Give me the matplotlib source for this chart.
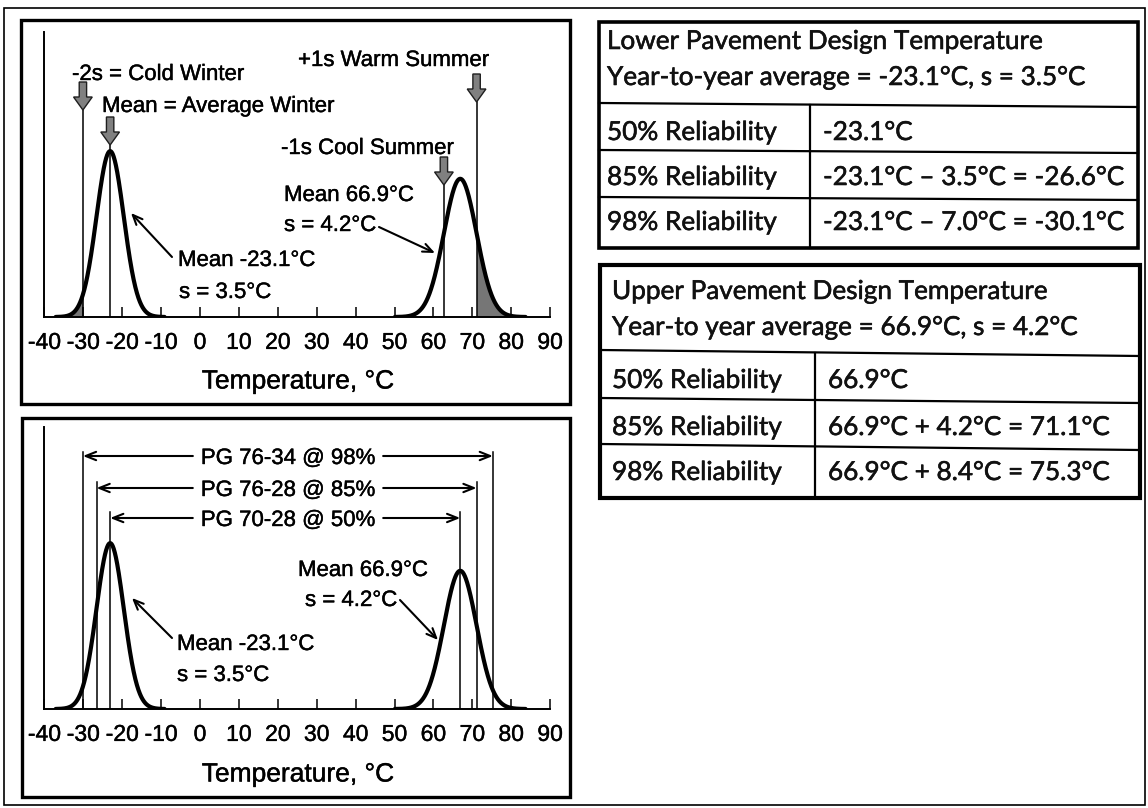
import numpy as np
import matplotlib
matplotlib.use("Agg")
import matplotlib.pyplot as plt
import matplotlib.patheffects as pe
from matplotlib.patches import Rectangle, FancyArrow

# ---- data -------------------------------------------------------------
winter_mean, winter_sd = -23.1, 3.5
summer_mean, summer_sd = 66.9, 4.2
temp_ticks = [-40, -30, -20, -10, 0, 10, 20, 30, 40, 50, 60, 70, 80, 90]

cold_winter = -30.1      # mean - 2s
cool_summer = 62.7       # mean - 1s
warm_summer = 71.1       # mean + 1s

low_design = [-23.1, -26.6, -30.1]     # 50 %, 85 %, 98 %
high_design = [66.9, 71.1, 75.3]
grade_labels = ["PG 70-28 @ 50%", "PG 76-28 @ 85%", "PG 76-34 @ 98%"]

reliability_rows = ["50% Reliability", "85% Reliability", "98% Reliability"]
lower_title = ["Lower Pavement Design Temperature",
               "Year-to-year average = -23.1°C, s = 3.5°C"]
lower_values = ["-23.1°C", "-23.1°C – 3.5°C = -26.6°C", "-23.1°C – 7.0°C = -30.1°C"]
upper_title = ["Upper Pavement Design Temperature",
               "Year-to year average = 66.9°C, s = 4.2°C"]
upper_values = ["66.9°C", "66.9°C + 4.2°C = 71.1°C", "66.9°C + 8.4°C = 75.3°C"]

# ---- figure & pixel canvas -------------------------------------------
W, H = 1148, 808
DPI = 100
CHART_FONT = "Liberation Sans"
TABLE_FONT = "Lato"
INK = [pe.withStroke(linewidth=0.3, foreground="black")]
TABLE_INK = [pe.withStroke(linewidth=0.4, foreground="#111111")]

fig = plt.figure(figsize=(W / DPI, H / DPI), dpi=DPI, facecolor="white")
canvas = fig.add_axes([0, 0, 1, 1])
canvas.set_xlim(0, W)
canvas.set_ylim(H, 0)
canvas.axis("off")

SCALE = 1455.0          # pixels per unit of probability density
X0, X1 = 44.4, 550.1     # pixel span of -40 .. 90 degC


def pdf(x, m, s):
    return np.exp(-0.5 * ((x - m) / s) ** 2) / (s * np.sqrt(2 * np.pi))


def ptext(x, cy, s, size, family=CHART_FONT, **kw):
    """Text whose capitals are centred on pixel row cy."""
    base = cy + 0.36 * size * DPI / 72
    return canvas.text(x, base, s, fontsize=size, family=family,
                       va="baseline", path_effects=INK, **kw)


def make_chart(base_px, top_px):
    ax = fig.add_axes([X0 / W, 1 - base_px / H, (X1 - X0) / W,
                       (base_px - top_px) / H])
    ax.set_xlim(-40, 90)
    ax.set_ylim(0, (base_px - top_px) / SCALE)
    ax.patch.set_alpha(0)
    for s in ("top", "right"):
        ax.spines[s].set_visible(False)
    for s in ("left", "bottom"):
        ax.spines[s].set_linewidth(1.4)
    ax.set_yticks([])
    ax.set_xticks(temp_ticks)
    ax.set_xticklabels([str(t) for t in temp_ticks], family=CHART_FONT,
                       path_effects=INK)
    ax.tick_params(axis="x", direction="in", length=7.5, width=1.1,
                   pad=10, labelsize=16.5)
    return ax


def bell(ax, m, s, shade_below=None, shade_above=None):
    x = np.linspace(m - 4 * s, m + 4 * s, 500)
    y = pdf(x, m, s)
    if shade_below is not None:
        msk = x <= shade_below
        ax.fill_between(x[msk], 0, y[msk], color="#767676", lw=0)
    if shade_above is not None:
        msk = x >= shade_above
        ax.fill_between(x[msk], 0, y[msk], color="#767676", lw=0)
    ax.plot(x, y, color="black", lw=3.0, solid_capstyle="round")


def block_arrow(ax, t, tip_px, base_px):
    tip = (base_px - tip_px) / SCALE
    L = 28 / SCALE
    ax.add_patch(FancyArrow(t, tip + L, 0, -L, width=1.9, head_width=4.8,
                            head_length=13 / SCALE, length_includes_head=True,
                            fc="#808080", ec="#1e1e1e", lw=1.0, zorder=5))
    ax.plot([t, t], [0, tip], color="black", lw=1.1)


def pointer(x0, y0, x1, y1):
    canvas.annotate("", xy=(x1, y1), xytext=(x0, y0),
                    arrowprops=dict(arrowstyle="->,head_length=0.7,head_width=0.3",
                                    lw=1.5, color="black",
                                    shrinkA=0, shrinkB=0))


# ---- outer frame and panel frames ------------------------------------
canvas.add_patch(Rectangle((4, 8), 1141, 797, fill=False, lw=1.2, ec="black"))
canvas.add_patch(Rectangle((21, 20), 549, 384, fill=False, lw=2.4, ec="black"))
canvas.add_patch(Rectangle((22, 418), 548, 379, fill=False, lw=2.4, ec="black"))

# ---- top chart: design season markers --------------------------------
TOP_BASE, TOP_TOP = 317, 32
ax1 = make_chart(TOP_BASE, TOP_TOP)
bell(ax1, winter_mean, winter_sd, shade_below=cold_winter)
bell(ax1, summer_mean, summer_sd, shade_above=warm_summer)
block_arrow(ax1, cold_winter, 110, TOP_BASE)
block_arrow(ax1, winter_mean, 145, TOP_BASE)
block_arrow(ax1, cool_summer, 185, TOP_BASE)
block_arrow(ax1, warm_summer, 102, TOP_BASE)

ptext(72, 72, "-2s = Cold Winter", 16)
ptext(102, 104, "Mean = Average Winter", 16)
ptext(298, 58, "+1s Warm Summer", 16)
ptext(281, 146, "-1s Cool Summer", 16)
ptext(284, 193, f"Mean {summer_mean}°C", 16)
ptext(284, 223, f"s = {summer_sd}°C", 16)
ptext(178, 258, f"Mean {winter_mean}°C", 16)
ptext(179, 290, f"s = {winter_sd}°C", 16)
pointer(379, 227, 435, 253)
pointer(172, 257, 131, 213)
ptext(298, 379, "Temperature, °C", 19, ha="center")

# ---- bottom chart: performance grades --------------------------------
BOT_BASE, BOT_TOP = 709, 427
ax2 = make_chart(BOT_BASE, BOT_TOP)
bell(ax2, winter_mean, winter_sd)
bell(ax2, summer_mean, summer_sd)

line_tops = [512, 482, 452]
row_y = [518, 488, 456]
fig.canvas.draw()
renderer = fig.canvas.get_renderer()
for lo, hi, lab, top_px, ry in zip(low_design, high_design, grade_labels,
                                   line_tops, row_y):
    h = (BOT_BASE - top_px) / SCALE
    ax2.plot([lo, lo], [0, h], color="black", lw=1.1)
    ax2.plot([hi, hi], [0, h], color="black", lw=1.1)
    t = ptext(288, ry, lab, 16, ha="center")
    bb = t.get_window_extent(renderer)
    coords = (ax2.transData, canvas.transData)
    for start, end in ((bb.x0 - 8, lo), (bb.x1 + 8, hi)):
        canvas.annotate("", xy=(end, ry), xycoords=coords,
                        xytext=(start, ry), textcoords=canvas.transData,
                        arrowprops=dict(arrowstyle="->,head_length=0.75,head_width=0.3",
                                        lw=1.5, color="black",
                                        shrinkA=0, shrinkB=0))

ptext(298, 568, f"Mean {summer_mean}°C", 16)
ptext(305, 598, f"s = {summer_sd}°C", 16)
ptext(177, 642, f"Mean {winter_mean}°C", 16)
ptext(177, 673, f"s = {winter_sd}°C", 16)
pointer(400, 600, 438, 640)
pointer(172, 638, 132, 598)
ptext(298, 772, "Temperature, °C", 19, ha="center")

# ---- tables ------------------------------------------------------------
probe = canvas.text(0, 0, lower_title[0], fontsize=10, family=TABLE_FONT)
probe_w = probe.get_window_extent(renderer).width
probe.remove()
TABLE_SIZE = 1.0 * 10 * 436 / probe_w
TSTYLE = dict(fontsize=TABLE_SIZE, family=TABLE_FONT, va="baseline",
              color="#111111", path_effects=TABLE_INK)


def table(x0, x1, y0, y1, border, head_line, row_lines, div_x,
          title, title_base, row_base, lx, rx, values):
    canvas.add_patch(Rectangle((x0, y0), x1 - x0, y1 - y0, fill=False,
                               lw=border, ec="black", zorder=3))
    canvas.plot([x0, x1], head_line, color="black", lw=1.6)
    for rl in row_lines:
        canvas.plot([x0, x1], rl, color="black", lw=1.6)
    canvas.plot([div_x, div_x], [np.mean(head_line), y1], color="black", lw=1.6)
    for s, b in zip(title, title_base):
        canvas.text(lx, b, s, **TSTYLE)
    for lab, val, b in zip(reliability_rows, values, row_base):
        canvas.text(lx, b, lab, **TSTYLE)
        canvas.text(rx, b, val, **TSTYLE)


table(599, 1138, 22, 248, 2.6, (103, 107), [(150, 153), (197, 200)], 810,
      lower_title, [49, 85], [140, 185, 230], 607, 823, lower_values)
table(600, 1140, 265, 498, 3.0, (350, 356), [(398, 403), (444, 450)], 815,
      upper_title, [299, 335], [388, 435, 480], 612, 828, upper_values)

fig.savefig("out.png", dpi=DPI, facecolor="white")
